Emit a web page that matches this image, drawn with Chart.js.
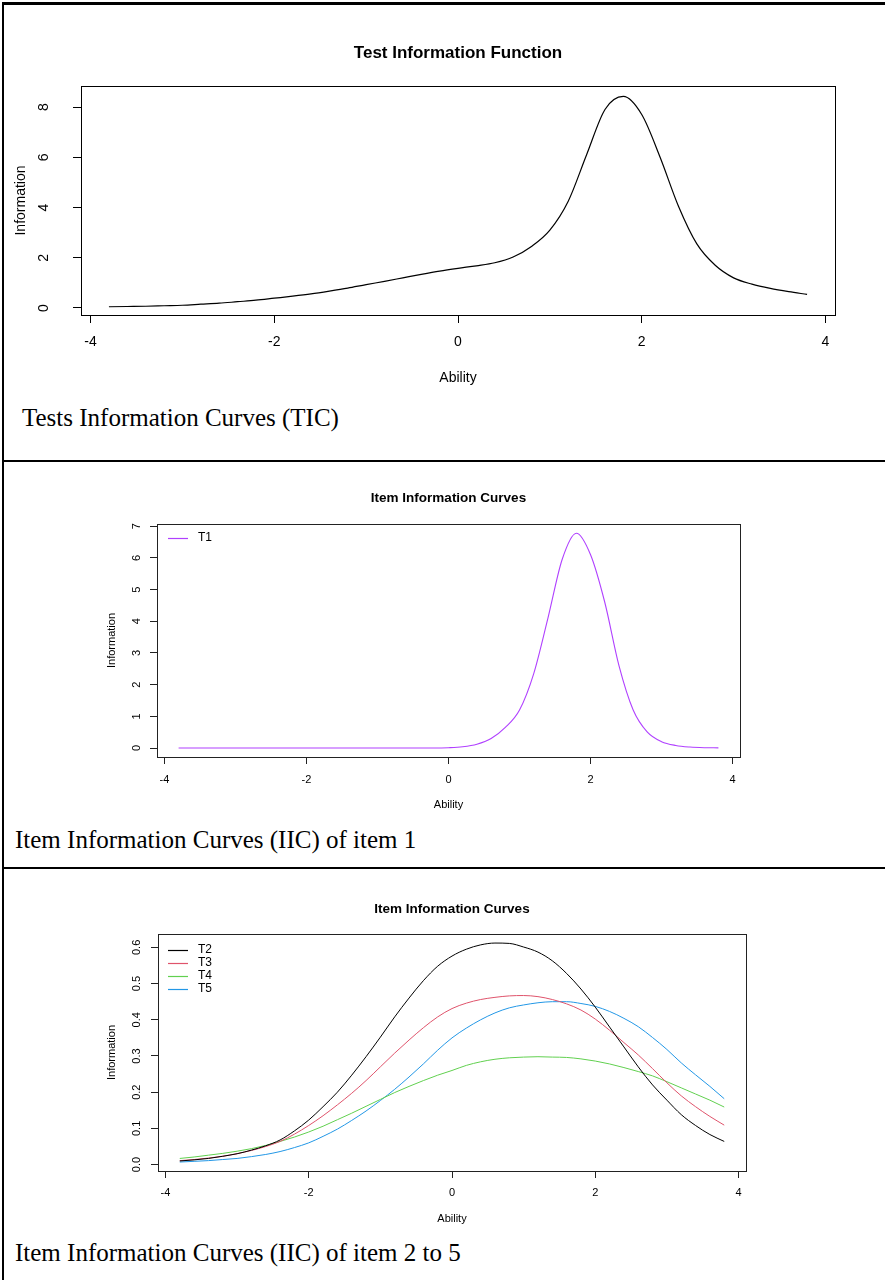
<!DOCTYPE html>
<html><head><meta charset="utf-8">
<script src="https://cdn.jsdelivr.net/npm/chart.js@4.4.1/dist/chart.umd.min.js"></script>
<style>
html,body{margin:0;padding:0;background:#fff;}
body{width:885px;height:1280px;position:relative;overflow:hidden;}
canvas{position:absolute;left:0;}
.cap{position:absolute;font-family:"Liberation Serif","Times New Roman",serif;font-size:25px;color:#000;white-space:nowrap;line-height:25px;}
.ln{position:absolute;background:#000;}
</style></head><body>
<canvas id="c1" width="885" height="396" style="top:4px"></canvas>
<canvas id="c2" width="885" height="360" style="top:462px"></canvas>
<canvas id="c3" width="885" height="366" style="top:870px"></canvas>
<div class="cap" style="left:22px;top:405px">Tests Information Curves (TIC)</div>
<div class="cap" style="left:15px;top:827px">Item Information Curves (IIC) of item 1</div>
<div class="cap" style="left:15px;top:1240px">Item Information Curves (IIC) of item 2 to 5</div>
<div class="ln" style="left:2px;top:2px;width:883px;height:3px"></div>
<div class="ln" style="left:2px;top:2px;width:2px;height:1278px"></div>
<div class="ln" style="left:2px;top:460px;width:883px;height:2px"></div>
<div class="ln" style="left:2px;top:867px;width:883px;height:2px"></div>
<script>
const abilities = [-3.8,-3.6,-3.4,-3.2,-3.0,-2.8,-2.6,-2.4,-2.2,-2.0,-1.8,-1.6,-1.4,-1.2,-1.0,-0.8,-0.6,-0.4,-0.2,0.0,0.2,0.4,0.6,0.8,1.0,1.2,1.4,1.6,1.8,2.0,2.2,2.4,2.6,2.8,3.0,3.2,3.4,3.6,3.8];
const tifValues = [0.05,0.06,0.07,0.09,0.11,0.15,0.19,0.25,0.31,0.39,0.47,0.56,0.67,0.79,0.93,1.06,1.20,1.34,1.47,1.58,1.68,1.80,2.03,2.45,3.10,4.25,6.10,7.90,8.42,7.70,6.00,4.05,2.55,1.70,1.20,0.95,0.78,0.65,0.54];
const t1Values = [0,0,0,0,0,0,0,0,0,0,0,0,0,0,0,0,0,0,0,0.01,0.04,0.12,0.30,0.65,1.20,2.35,4.10,5.95,6.78,6.10,4.60,2.60,1.20,0.50,0.20,0.08,0.03,0.01,0.005];
const t2Values = [0.010,0.013,0.017,0.023,0.030,0.040,0.052,0.068,0.093,0.123,0.160,0.200,0.247,0.298,0.352,0.408,0.460,0.508,0.548,0.576,0.595,0.607,0.612,0.611,0.601,0.587,0.563,0.528,0.485,0.435,0.380,0.325,0.270,0.220,0.178,0.138,0.108,0.083,0.064];
const t3Values = [0.011,0.014,0.018,0.023,0.030,0.039,0.050,0.064,0.084,0.108,0.135,0.165,0.197,0.232,0.270,0.308,0.344,0.378,0.408,0.431,0.446,0.456,0.462,0.466,0.467,0.464,0.456,0.444,0.427,0.402,0.371,0.337,0.303,0.265,0.226,0.190,0.160,0.133,0.109];
const t4Values = [0.017,0.021,0.026,0.031,0.037,0.044,0.053,0.064,0.076,0.090,0.106,0.124,0.142,0.161,0.180,0.199,0.216,0.232,0.247,0.260,0.274,0.284,0.291,0.295,0.297,0.298,0.297,0.296,0.292,0.286,0.278,0.268,0.257,0.245,0.229,0.212,0.195,0.178,0.159];
const t5Values = [0.007,0.009,0.011,0.014,0.017,0.022,0.028,0.036,0.047,0.060,0.078,0.098,0.122,0.148,0.177,0.208,0.242,0.278,0.316,0.350,0.377,0.400,0.419,0.433,0.441,0.447,0.450,0.450,0.445,0.437,0.423,0.404,0.381,0.351,0.318,0.281,0.248,0.216,0.182];
const xTicks = [-4,-2,0,2,4];
const yTicksTIF = [0,2,4,6,8];
const yLabelsTIF = ['0','2','4','6','8'];
const yTicksT1 = [0,1,2,3,4,5,6,7];
const yLabelsT1 = ['0','1','2','3','4','5','6','7'];
const yTicksT25 = [0,0.1,0.2,0.3,0.4,0.5,0.6];
const yLabelsT25 = ['0.0','0.1','0.2','0.3','0.4','0.5','0.6'];

const FONT = '"Liberation Sans", Arial, Helvetica, sans-serif';

const rPlugin = {
  id: 'rstyle',
  afterDraw(chart, args, o) {
    const ctx = chart.ctx, a = chart.chartArea;
    ctx.save();
    ctx.strokeStyle = o.boxColor; ctx.lineWidth = 1;
    ctx.strokeRect(Math.round(a.left)+0.5, Math.round(a.top)+0.5, Math.round(a.right-a.left), Math.round(a.bottom-a.top));
    ctx.fillStyle = '#000';
    ctx.textAlign = 'center'; ctx.textBaseline = 'middle';
    ctx.font = 'bold ' + o.titleSize + 'px ' + FONT;
    ctx.fillText(o.title, (a.left+a.right)/2, o.titleY);
    const ys = chart.scales.y;
    ctx.font = o.tickSize + 'px ' + FONT;
    ys.ticks.forEach((t,i) => {
      const py = ys.getPixelForValue(t.value);
      ctx.save(); ctx.translate(o.yLabelX, py); ctx.rotate(-Math.PI/2);
      ctx.fillText(o.yLabels[i], 0, 0); ctx.restore();
    });
    if (o.legend && o.legend.show) {
      const L = o.legend;
      chart.data.datasets.forEach((d,i) => {
        const y = L.y + i*L.step;
        ctx.strokeStyle = d.borderColor; ctx.lineWidth = 1.2;
        ctx.beginPath(); ctx.moveTo(L.x1, Math.round(y)+0.5); ctx.lineTo(L.x2, Math.round(y)+0.5); ctx.stroke();
        ctx.fillStyle = '#000'; ctx.textAlign = 'left'; ctx.textBaseline = 'middle';
        ctx.font = L.fs + 'px ' + FONT;
        ctx.fillText(d.label, L.tx, y);
      });
    }
    ctx.restore();
  }
};

function makeChart(id, c) {
  const fnt = {family: FONT, size: c.fs};
  return new Chart(document.getElementById(id), {
    type: 'line',
    data: { datasets: c.series.map(s => ({
      label: s.name,
      data: abilities.map((x,i) => ({x: x, y: s.values[i]})),
      borderColor: s.color, borderWidth: c.lw, pointRadius: 0, fill: false,
      cubicInterpolationMode: 'monotone'
    })) },
    options: {
      responsive: false, animation: false, devicePixelRatio: 1,
      layout: {padding: {left: 0, right: c.padRight, top: c.padTop, bottom: 0}},
      plugins: {
        legend: {display: false}, tooltip: {enabled: false}, title: {display: false},
        rstyle: {boxColor: c.boxColor, title: c.title, titleSize: c.titleSize, titleY: c.titleY,
                 tickSize: c.fs, yLabelX: c.yLabelX, yLabels: c.yLabels, legend: c.legend}
      },
      scales: {
        x: {
          type: 'linear', min: -4.104, max: 4.104,
          afterBuildTicks: s => { s.ticks = xTicks.map(v => ({value: v})); },
          afterFit: s => { s.height = c.xH; },
          grid: {drawOnChartArea: false, drawTicks: true, tickLength: c.tl, color: c.boxColor, lineWidth: 1},
          border: {display: false},
          ticks: {font: fnt, color: '#000', padding: c.xPad, maxRotation: 0, autoSkip: false},
          title: {display: true, text: 'Ability', font: fnt, color: '#000', padding: {top: 0, bottom: c.xTitlePad}}
        },
        y: {
          type: 'linear', min: c.yMin, max: c.yMax,
          afterBuildTicks: s => { s.ticks = c.yTicks.map(v => ({value: v})); },
          afterFit: s => { s.width = c.boxLeft; },
          grid: {drawOnChartArea: false, drawTicks: true, tickLength: c.tl, color: c.boxColor, lineWidth: 1},
          border: {display: false},
          ticks: {display: false},
          title: {display: true, text: 'Information', font: fnt, color: '#000', padding: {top: c.yTitlePad, bottom: 0}}
        }
      }
    },
    plugins: [rPlugin]
  });
}

makeChart('c1', {
  series: [{name: 'TIF', values: tifValues, color: '#000000'}],
  lw: 1.2, fs: 14, titleSize: 17, title: 'Test Information Function', titleY: 49,
  padRight: 50, padTop: 82, boxLeft: 81, xH: 85, tl: 8, xPad: 10.6, xTitlePad: 13.6, yTitlePad: 12.6,
  yLabelX: 44, yMin: -0.279, yMax: 8.836, yTicks: yTicksTIF, yLabels: yLabelsTIF, boxColor: '#000',
  legend: {show: false}
});
makeChart('c2', {
  series: [{name: 'T1', values: t1Values, color: '#B040FF'}],
  lw: 1.1, fs: 11, titleSize: 13.5, title: 'Item Information Curves', titleY: 36,
  padRight: 145, padTop: 62, boxLeft: 157, xH: 65, tl: 7, xPad: 9, xTitlePad: 10.4, yTitlePad: 105.4,
  yLabelX: 137, yMin: -0.284, yMax: 7.07, yTicks: yTicksT1, yLabels: yLabelsT1, boxColor: '#222',
  legend: {show: true, x1: 168, x2: 188, tx: 198, y: 76, step: 13, fs: 12}
});
makeChart('c3', {
  series: [
    {name: 'T2', values: t2Values, color: '#000000'},
    {name: 'T3', values: t3Values, color: '#DF536B'},
    {name: 'T4', values: t4Values, color: '#61D04F'},
    {name: 'T5', values: t5Values, color: '#2297E6'}
  ],
  lw: 1, fs: 11, titleSize: 13.5, title: 'Item Information Curves', titleY: 39,
  padRight: 139, padTop: 64, boxLeft: 158, xH: 65, tl: 7, xPad: 8.4, xTitlePad: 10.4, yTitlePad: 105.4,
  yLabelX: 137, yMin: -0.0177, yMax: 0.637, yTicks: yTicksT25, yLabels: yLabelsT25, boxColor: '#222',
  legend: {show: true, x1: 168, x2: 188, tx: 198, y: 80, step: 13, fs: 12}
});
</script>
</body></html>
